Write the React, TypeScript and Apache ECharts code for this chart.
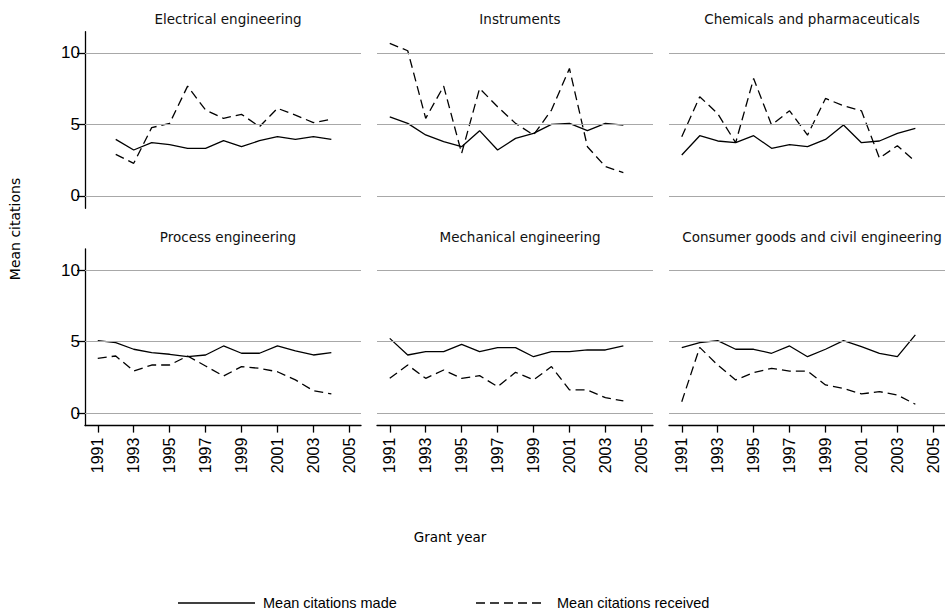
import React, { useEffect, useRef } from "react";
import * as echarts from "echarts";

const years = [1991, 1992, 1993, 1994, 1995, 1996, 1997, 1998, 1999, 2000, 2001, 2002, 2003, 2004];
const yearTicks = [1991, 1993, 1995, 1997, 1999, 2001, 2003, 2005];
const valueTicks = [0, 5, 10];

const panelTitles = [
  "Electrical engineering",
  "Instruments",
  "Chemicals and pharmaceuticals",
  "Process engineering",
  "Mechanical engineering",
  "Consumer goods and civil engineering",
];

const madeElectrical = [null, 3.95, 3.21, 3.72, 3.58, 3.33, 3.33, 3.86, 3.44, 3.86, 4.14, 3.95, 4.14, 3.95];
const receivedElectrical = [null, 2.9, 2.28, 4.77, 5.07, 7.67, 6.0, 5.42, 5.7, 4.84, 6.12, 5.65, 5.12, 5.35];
const madeInstruments = [5.53, 5.07, 4.26, 3.79, 3.44, 4.56, 3.21, 4.02, 4.37, 5.0, 5.07, 4.56, 5.07, 4.95];
const receivedInstruments = [10.65, 10.14, 5.42, 7.67, 2.98, 7.51, 6.23, 5.07, 4.26, 6.0, 8.9, 3.44, 2.05, 1.63];
const madeChemicals = [2.86, 4.21, 3.84, 3.72, 4.21, 3.33, 3.58, 3.44, 3.95, 4.95, 3.72, 3.84, 4.37, 4.72];
const receivedChemicals = [4.14, 6.93, 5.75, 3.72, 8.2, 4.95, 5.95, 4.25, 6.81, 6.3, 5.95, 2.65, 3.51, 2.4];
const madeProcess = [5.07, 4.93, 4.47, 4.23, 4.12, 3.95, 4.07, 4.7, 4.19, 4.19, 4.7, 4.35, 4.07, 4.23];
const receivedProcess = [3.84, 4.0, 2.95, 3.37, 3.37, 4.0, 3.3, 2.6, 3.26, 3.14, 2.9, 2.33, 1.58, 1.35];
const madeMechanical = [5.23, 4.07, 4.3, 4.3, 4.81, 4.3, 4.58, 4.58, 3.95, 4.3, 4.3, 4.42, 4.42, 4.7];
const receivedMechanical = [2.44, 3.37, 2.44, 3.02, 2.44, 2.63, 1.86, 2.86, 2.33, 3.26, 1.63, 1.63, 1.09, 0.86];
const madeConsumer = [4.58, 4.93, 5.07, 4.47, 4.47, 4.19, 4.7, 3.95, 4.47, 5.07, 4.65, 4.19, 3.95, 5.47];
const receivedConsumer = [0.81, 4.6, 3.37, 2.33, 2.84, 3.14, 2.95, 2.95, 1.98, 1.74, 1.35, 1.51, 1.28, 0.63];

const madeSeries = [madeElectrical, madeInstruments, madeChemicals, madeProcess, madeMechanical, madeConsumer];
const receivedSeries = [receivedElectrical, receivedInstruments, receivedChemicals, receivedProcess, receivedMechanical, receivedConsumer];

const MADE = "Mean citations made";
const RECEIVED = "Mean citations received";
const DASH = [9, 5];

const pairs = (vals: (number | null)[]) =>
  years.map((y, i) => [y, vals[i]] as [number, number | null]).filter((p) => p[1] !== null);

export default function App() {
  const ref = useRef<HTMLDivElement>(null);
  useEffect(() => {
    if (!ref.current) return;
    const chart = echarts.init(ref.current, null, { renderer: "svg" });
    const lefts = [85, 377, 669];
    const tops = [31.7, 249];
    const W = 276;
    const H = 176.6;
    const grids: any[] = [];
    const xAxes: any[] = [];
    const yAxes: any[] = [];
    const series: any[] = [];
    const titles: any[] = [];
    const numFont = "Liberation Sans";
    for (let i = 0; i < 6; i++) {
      const r = Math.floor(i / 3);
      const c = i % 3;
      grids.push({ left: lefts[c], top: tops[r], width: W, height: H, containLabel: false });
      const bottomRow = r === 1;
      xAxes.push({
        type: "value",
        gridIndex: i,
        min: 1990.29,
        max: 2005.65,
        axisLine: { show: bottomRow, onZero: false, lineStyle: { color: "#000", width: 1.3 } },
        axisTick: { show: bottomRow, customValues: yearTicks, length: 7, lineStyle: { color: "#000", width: 1.3 } },
        axisLabel: {
          show: bottomRow,
          customValues: yearTicks,
          formatter: (v: number) => String(v),
          rotate: 90,
          margin: 12,
          fontSize: 16,
          fontFamily: numFont,
          color: "#000",
        },
        splitLine: { show: false },
      });
      const firstCol = c === 0;
      yAxes.push({
        type: "value",
        gridIndex: i,
        min: -0.86,
        max: 11.47,
        axisLine: { show: firstCol, lineStyle: { color: "#000", width: 1.3 } },
        axisTick: { show: firstCol, customValues: valueTicks, length: 8, lineStyle: { color: "#000", width: 1.3 } },
        axisLabel: {
          show: firstCol,
          customValues: valueTicks,
          formatter: (v: number) => String(v),
          margin: 5,
          fontSize: 17,
          fontFamily: numFont,
          color: "#000",
        },
        splitLine: { show: false },
      });
      titles.push({
        text: panelTitles[i],
        left: lefts[c] + W / 2,
        top: r === 0 ? 7 : 225,
        textAlign: "center",
        textStyle: { fontSize: 13.5, fontWeight: "normal", fontFamily: "DejaVu Sans", color: "#111" },
      });
      series.push({
        type: "line",
        name: "grid" + i,
        xAxisIndex: i,
        yAxisIndex: i,
        data: [],
        z: 1,
        silent: true,
        markLine: {
          silent: true,
          symbol: "none",
          label: { show: false },
          lineStyle: { color: "#a8a8a8", type: "solid", width: 1.2 },
          data: valueTicks.map((v) => ({ yAxis: v })),
        },
      });
      series.push({
        type: "line",
        name: MADE,
        xAxisIndex: i,
        yAxisIndex: i,
        data: pairs(madeSeries[i]),
        symbol: "none",
        showSymbol: false,
        z: 3,
        lineStyle: { color: "#000", width: 1.3, type: "solid" },
        itemStyle: { color: "#000" },
      });
      series.push({
        type: "line",
        name: RECEIVED,
        xAxisIndex: i,
        yAxisIndex: i,
        data: pairs(receivedSeries[i]),
        symbol: "none",
        showSymbol: false,
        z: 3,
        lineStyle: { color: "#000", width: 1.3, type: DASH },
        itemStyle: { color: "#000" },
      });
    }
    const legendY = 603;
    chart.setOption({
      animation: false,
      backgroundColor: "#fff",
      title: titles,
      grid: grids,
      xAxis: xAxes,
      yAxis: yAxes,
      series,
      graphic: [
        {
          type: "text",
          x: 15,
          y: 229,
          rotation: Math.PI / 2,
          style: {
            text: "Mean citations",
            fontSize: 14,
            fontFamily: "DejaVu Sans",
            fill: "#000",
            align: "center",
            verticalAlign: "middle",
          },
        },
        {
          type: "text",
          x: 450,
          y: 537,
          style: {
            text: "Grant year",
            fontSize: 13.5,
            fontFamily: "DejaVu Sans",
            fill: "#000",
            align: "center",
            verticalAlign: "middle",
          },
        },
        {
          type: "line",
          shape: { x1: 178, y1: legendY, x2: 255, y2: legendY },
          style: { stroke: "#000", lineWidth: 1.3 },
        },
        {
          type: "text",
          x: 263,
          y: legendY,
          style: { text: MADE, fontSize: 14.5, fontFamily: numFont, fill: "#000", verticalAlign: "middle" },
        },
        {
          type: "line",
          shape: { x1: 476, y1: legendY, x2: 546, y2: legendY },
          style: { stroke: "#000", lineWidth: 1.3, lineDash: DASH },
        },
        {
          type: "text",
          x: 557,
          y: legendY,
          style: { text: RECEIVED, fontSize: 14.5, fontFamily: numFont, fill: "#000", verticalAlign: "middle" },
        },
      ],
    });
    return () => chart.dispose();
  }, []);
  return <div ref={ref} style={{ position: "fixed", left: 0, top: 0, width: 945, height: 616, background: "#fff" }} />;
}
